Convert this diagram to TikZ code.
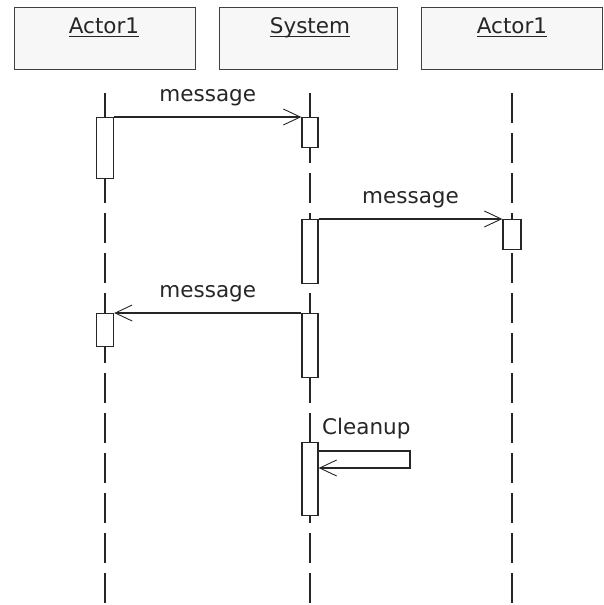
\documentclass[tikz,border=0pt]{standalone}
\usepackage{fontspec}
\setmainfont{DejaVu Sans}
\usetikzlibrary{arrows.meta}
\begin{document}
\begin{tikzpicture}[x=1pt,y=-1pt,
  objbox/.style={draw=black!75, line width=1.3pt, fill=black!3, inner sep=0pt, anchor=north west},
  lbl/.style={inner sep=0pt, font=\fontsize{21.5pt}{25pt}\selectfont, text=black!85},
  lifeline/.style={line width=1.3pt, draw=black!85, dash pattern=on 30pt off 10pt},
  act/.style={draw=black!85, line width=1.3pt, fill=white, inner sep=0pt, minimum width=17pt, anchor=north},
  msg/.style={line width=1.3pt, draw=black!85, -{Straight Barb[length=17pt,width=16pt,line width=0.9pt]}},
  uline/.style={line width=1pt, draw=black!85}
]
\useasboundingbox (0,0) rectangle (603,605);
% object boxes
\node[objbox, minimum width=181pt, minimum height=62pt] (b1) at (14,7) {};
\node[objbox, minimum width=178pt, minimum height=62pt] (b2) at (219,7) {};
\node[objbox, minimum width=181pt, minimum height=62pt] (b3) at (421,7) {};
\node[lbl, anchor=base] (t1) at (104,33) {Actor1};
\node[lbl, anchor=base] (t2) at (310,33) {System};
\node[lbl, anchor=base] (t3) at (512,33) {Actor1};
\draw[uline] ([yshift=-3pt]t1.base west) -- ([yshift=-3pt]t1.base east);
\draw[uline] ([yshift=-3pt]t2.base west) -- ([yshift=-3pt]t2.base east);
\draw[uline] ([yshift=-3pt]t3.base west) -- ([yshift=-3pt]t3.base east);
% lifelines
\coordinate (l1t) at (105,93); \coordinate (l1b) at (105,605);
\coordinate (l2t) at (310,93); \coordinate (l2b) at (310,605);
\coordinate (l3t) at (512,93); \coordinate (l3b) at (512,605);
\draw[lifeline] (l1t) -- (l1b);
\draw[lifeline] (l2t) -- (l2b);
\draw[lifeline] (l3t) -- (l3b);
% activations
\node[act, minimum height=61pt] (la1) at (105,117) {};
\node[act, minimum height=33pt] (la2) at (105,313) {};
\node[act, minimum height=30pt, minimum width=16pt] (sa1) at (310,117) {};
\node[act, minimum height=64pt, minimum width=16pt] (sa2) at (310,219) {};
\node[act, minimum height=64pt, minimum width=16pt] (sa3) at (310,313) {};
\node[act, minimum height=73pt, minimum width=16pt] (sa4) at (310,442) {};
\node[act, minimum height=30pt, minimum width=18pt] (ra1) at (512,219) {};
% messages
\draw[msg] (la1.north east) -- node[lbl, anchor=base, yshift=16pt, midway] (m1) {message} (sa1.north west);
\draw[msg] (sa2.north east) -- node[lbl, anchor=base, yshift=16pt, midway] (m2) {message} (ra1.north west);
\draw[msg] (sa3.north west) -- node[lbl, anchor=base, yshift=16pt, midway] (m3) {message} (la2.north east);
% self message
\coordinate (c1) at (410,451);
\coordinate (c2) at (410,468);
\draw[msg] ([yshift=-9pt]sa4.north east) -- (c1) -- (c2) -- ([yshift=-26pt]sa4.north east);
\node[lbl, anchor=base west] (cl) at (322,434) {Cleanup};
\end{tikzpicture}
\end{document}
